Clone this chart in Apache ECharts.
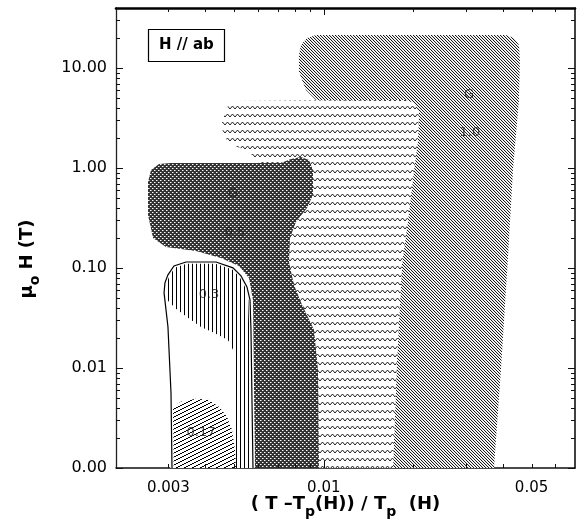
<!DOCTYPE html>
<html>
<head>
<meta charset="utf-8">
<script src="https://cdn.jsdelivr.net/npm/echarts@6/dist/echarts.min.js"></script>
<style>
  html, body { margin: 0; padding: 0; background: #fff; }
  #chart { width: 585px; height: 529px; }
</style>
</head>
<body>
<div id="chart"></div>
<script>
// Fluctuation regions in the (reduced temperature, field) plane, H // ab.
// x: (T - Tp(H)) / Tp(H), y: mu0 H in tesla, both logarithmic.

const xRange = [0.002, 0.07];
const yRange = [0.001, 40];

const xTickLabels = [0.003, 0.01, 0.05];
const xMajorTicks = [0.01];
const xMinorTicks = [0.003, 0.004, 0.005, 0.006, 0.007, 0.008, 0.009,
                     0.02, 0.03, 0.04, 0.05, 0.06];
const yTickLabels = [0.001, 0.01, 0.1, 1, 10];
const yMajorTicks = [0.001, 0.01, 0.1, 1, 10];
const yMinorTicks = [0.002, 0.003, 0.004, 0.005, 0.006, 0.007, 0.008, 0.009,
                     0.02, 0.03, 0.04, 0.05, 0.06, 0.07, 0.08, 0.09,
                     0.2, 0.3, 0.4, 0.5, 0.6, 0.7, 0.8, 0.9,
                     2, 3, 4, 5, 6, 7, 8, 9,
                     20, 30];

// Region outlines as [x, mu0H] pairs.
const region10 = [
  [0.00825, 13.6], [0.00838, 17.1], [0.00878, 20.0], [0.00941, 21.5],
  [0.0410, 21.5], [0.0436, 20.0], [0.04535, 17.1], [0.0457, 12.1],
  [0.04535, 4.81], [0.0433, 0.959], [0.0416, 0.121], [0.03945, 0.0096],
  [0.03736, 0.001], [0.01709, 0.001], [0.01763, 0.0121], [0.01832, 0.108],
  [0.01919, 0.303], [0.02011, 0.959], [0.02073, 1.91], [0.0209, 3.65],
  [0.01995, 4.49], [0.00941, 4.81], [0.00871, 6.05], [0.00825, 9.16]
];
const regionWave = [
  [0.004726, 4.09], [0.005066, 4.70], [0.0189, 4.81], [0.02011, 4.49],
  [0.0209, 3.65], [0.02073, 1.91], [0.02011, 0.959], [0.01919, 0.303],
  [0.01832, 0.108], [0.01763, 0.0121], [0.01709, 0.001], [0.006643, 0.001],
  [0.006643, 0.152], [0.006246, 1.076], [0.005474, 1.52], [0.004873, 1.706],
  [0.004581, 2.15], [0.004545, 2.90]
];
const region05 = [
  [0.002563, 0.728], [0.002623, 0.959], [0.002791, 1.102], [0.003062, 1.127],
  [0.007178, 1.127], [0.007756, 1.236], [0.008383, 1.294], [0.008916, 1.208],
  [0.009196, 0.959], [0.009196, 0.540], [0.00878, 0.400], [0.008063, 0.290],
  [0.007697, 0.2005], [0.007637, 0.115], [0.007939, 0.0679], [0.008447, 0.0429],
  [0.009268, 0.0241], [0.00956, 0.0096], [0.009634, 0.001], [0.005869, 0.001],
  [0.005779, 0.0481], [0.005603, 0.0798], [0.005184, 0.105], [0.004511, 0.1265],
  [0.003716, 0.1486], [0.002945, 0.163], [0.002665, 0.2005], [0.002563, 0.340]
];
const region03 = [
  [0.003086, 0.001], [0.003062, 0.00565], [0.002991, 0.0258], [0.002902, 0.0565],
  [0.002922, 0.0711], [0.002991, 0.0855], [0.003134, 0.105], [0.00344, 0.115],
  [0.004339, 0.115], [0.004949, 0.1005], [0.005266, 0.0836], [0.005515, 0.0649],
  [0.005646, 0.0481], [0.00569, 0.0241], [0.005734, 0.00481], [0.005779, 0.001]
];
const region03Open = [
  [0.002969, 0.0481], [0.003183, 0.0391], [0.003493, 0.0318], [0.003863, 0.0258],
  [0.004271, 0.0225], [0.004762, 0.0191], [0.004988, 0.01452], [0.005026, 0.001],
  [0.003086, 0.001], [0.003062, 0.00565], [0.002991, 0.0258]
];
const region017 = [
  [0.00311, 0.00409], [0.003308, 0.00459], [0.003716, 0.00492], [0.004078, 0.00481],
  [0.004441, 0.00409], [0.004726, 0.00325], [0.004912, 0.00241], [0.005026, 0.00152],
  [0.005066, 0.001], [0.00311, 0.001]
];

// Text placed inside the regions: [x, mu0H, text]
const regionLabels = [
  [0.00495, 0.552, 'G'],
  [0.005026, 0.225, '0.5'],
  [0.00411, 0.054, '0.3'],
  [0.003863, 0.00225, '0.17'],
  [0.0308, 5.40, 'G'],
  [0.0310, 2.25, '1.0']
];

// ---- fill textures ----
function makePattern(w, h, draw) {
  const c = document.createElement('canvas');
  c.width = w; c.height = h;
  const g = c.getContext('2d');
  g.fillStyle = '#fff';
  g.fillRect(0, 0, w, h);
  draw(g);
  return { image: c, repeat: 'repeat' };
}
const px = (g, x, y, col) => { g.fillStyle = col; g.fillRect(x, y, 1, 1); };

const texBackslash = makePattern(3, 3, g => {
  for (let i = 0; i < 3; i++) px(g, i, i, '#1a1a1a');
  px(g, 1, 0, '#e2e2e2'); px(g, 2, 1, '#e2e2e2'); px(g, 0, 2, '#e2e2e2');
});
const texWave = makePattern(5, 8, g => {
  g.strokeStyle = '#222';
  g.lineWidth = 1;
  g.beginPath();
  g.moveTo(0, 5); g.lineTo(2.5, 2); g.lineTo(5, 5);
  g.stroke();
});
const texCross = makePattern(4, 4, g => {
  g.fillStyle = '#333';
  g.fillRect(0, 0, 4, 4);
  px(g, 0, 0, '#fff'); px(g, 2, 2, '#fff');
  px(g, 1, 0, '#999'); px(g, 3, 2, '#999');
});
const texVertical = makePattern(4, 1, g => { px(g, 0, 0, '#000'); });
const texSlash = makePattern(8, 4, g => {
  for (let x = 0; x < 8; x++) px(g, x, 3 - Math.floor(x / 2), '#000');
});

function regionSeries(points, shapeType, style, z) {
  return {
    type: 'custom',
    coordinateSystem: 'cartesian2d',
    data: points,
    z: z,
    silent: true,
    renderItem: function (params, api) {
      if (params.dataIndex !== 0) return null;
      const pts = points.map(p => api.coord(p));
      return { type: shapeType, shape: { points: pts }, style: style };
    }
  };
}

// Inward tick marks on all four sides of the frame.
const TICK_MAJOR = 7, TICK_MINOR = 4;
function buildTicks(toPixel) {
  const out = [];
  function seg(x1, y1, x2, y2) {
    out.push({
      type: 'line',
      silent: true,
      z: 100,
      shape: { x1: x1, y1: y1, x2: x2, y2: y2 },
      style: { stroke: '#111', lineWidth: 1 }
    });
  }
  function xTicks(vals, len) {
    vals.forEach(function (v) {
      const b = toPixel([v, yRange[0]]);
      const t = toPixel([v, yRange[1]]);
      const xp = Math.round(b[0]) + 0.5;
      seg(xp, b[1], xp, b[1] - len);
      seg(xp, t[1], xp, t[1] + len);
    });
  }
  function yTicks(vals, len) {
    vals.forEach(function (v) {
      const l = toPixel([xRange[0], v]);
      const r = toPixel([xRange[1], v]);
      const yp = Math.round(l[1]) + 0.5;
      seg(l[0], yp, l[0] + len, yp);
      seg(r[0], yp, r[0] - len, yp);
    });
  }
  xTicks(xMinorTicks, TICK_MINOR);
  xTicks(xMajorTicks, TICK_MAJOR);
  yTicks(yMinorTicks, TICK_MINOR);
  yTicks(yMajorTicks, TICK_MAJOR);
  return out;
}

const FONT = 'DejaVu Sans';

function axisCommon(range) {
  return {
    type: 'log', logBase: 10, min: range[0], max: range[1],
    splitLine: { show: false },
    axisLine: { show: false, onZero: false },
    axisLabel: { show: false },
    axisTick: { show: false }
  };
}

const chart = echarts.init(document.getElementById('chart'), null, { renderer: 'canvas' });

chart.setOption({
  animation: false,
  backgroundColor: '#fff',
  textStyle: { fontFamily: FONT },
  title: {
    text: 'H // ab',
    left: 148, top: 29,
    padding: [9, 11],
    borderColor: '#000', borderWidth: 1.2,
    textStyle: { fontFamily: FONT, fontWeight: 'bold', fontSize: 15, color: '#000' }
  },
  grid: { left: 116, top: 8, width: 459, height: 460, containLabel: false },
  xAxis: [
    Object.assign(axisCommon(xRange), {
      position: 'bottom',
      axisLine: { show: true, onZero: false, lineStyle: { color: '#111', width: 1.5 } },
      axisLabel: {
        show: true, customValues: xTickLabels, margin: 13,
        fontFamily: FONT, fontSize: 15, color: '#000',
        formatter: v => String(+(+v).toPrecision(6))
      },
      name: '( T \u2013T{s|p}(H)) / T{s|p}  (H)',
      nameLocation: 'middle',
      nameGap: 21,
      nameMoveOverlap: false,
      nameTextStyle: {
        fontFamily: FONT, fontWeight: 'bold', fontSize: 18, color: '#000', lineHeight: 30,
        rich: { s: { fontFamily: FONT, fontWeight: 'bold', fontSize: 14, color: '#000', verticalAlign: 'bottom', lineHeight: 12 } }
      }
    }),
    Object.assign(axisCommon(xRange), {
      position: 'top',
      axisLine: { show: true, onZero: false, lineStyle: { color: '#000', width: 2.6 } }
    })
  ],
  yAxis: [
    Object.assign(axisCommon(yRange), {
      position: 'left',
      axisLine: { show: true, onZero: false, lineStyle: { color: '#222', width: 1.3 } },
      axisLabel: {
        show: true, customValues: yTickLabels, margin: 9,
        fontFamily: FONT, fontSize: 16, color: '#000',
        formatter: v => (+v).toFixed(2)
      },
      name: '\u03bc{s|o} H (T)',
      nameLocation: 'middle',
      nameRotate: 90,
      nameGap: 74,
      nameMoveOverlap: false,
      nameTextStyle: {
        fontFamily: FONT, fontWeight: 'bold', fontSize: 18, color: '#000', lineHeight: 30,
        padding: [0, 42, 0, 0],
        rich: { s: { fontFamily: FONT, fontWeight: 'bold', fontSize: 14, color: '#000', verticalAlign: 'bottom', lineHeight: 12 } }
      }
    }),
    Object.assign(axisCommon(yRange), {
      position: 'right',
      axisLine: { show: true, onZero: false, lineStyle: { color: '#111', width: 1.6 } }
    })
  ],
  series: [
    regionSeries(region10, 'polygon', { fill: texBackslash, stroke: null }, 2),
    regionSeries(regionWave, 'polygon', { fill: texWave, stroke: null }, 3),
    regionSeries(region05, 'polygon', { fill: texCross, stroke: null }, 4),
    regionSeries(region03, 'polygon', { fill: texVertical, stroke: null }, 5),
    regionSeries(region03Open, 'polygon', { fill: '#fff', stroke: null }, 6),
    regionSeries(region017, 'polygon', { fill: texSlash, stroke: null }, 7),
    regionSeries(region03, 'polyline', { fill: null, stroke: '#fff', lineWidth: 3.5 }, 8),
    regionSeries(region03, 'polyline', { fill: null, stroke: '#000', lineWidth: 1.2 }, 9),
    {
      type: 'scatter',
      data: regionLabels.map(d => ({ value: [d[0], d[1]], name: d[2] })),
      symbolSize: 0,
      silent: true,
      z: 10,
      label: {
        show: true, position: 'inside', formatter: '{b}',
        fontFamily: FONT, fontSize: 13, color: '#1a1a1a'
      }
    }
  ]
});

// Tick marks placed through the grid's own scales once the axes exist.
chart.setOption({
  graphic: {
    elements: buildTicks(p => chart.convertToPixel({ gridIndex: 0 }, p))
  }
});
</script>
</body>
</html>
